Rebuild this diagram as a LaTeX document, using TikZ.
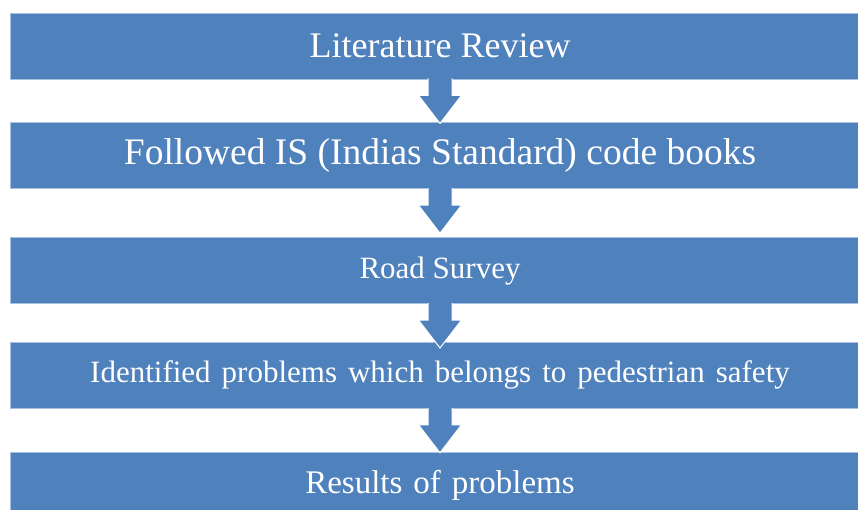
\documentclass[tikz,border=0pt]{standalone}
\usepackage{fontspec}
\setmainfont{Liberation Serif}
\usepackage{xcolor}
\usetikzlibrary{positioning}

\definecolor{stepblue}{RGB}{79,129,189}
\definecolor{stepedge}{RGB}{168,193,224}

% block arrow hanging below a box
\newcommand{\downarrowblock}[1]{%
  \filldraw[arrowbody] ([xshift=-12pt,yshift=1pt]#1.south) -- ++(0,-17) -- ++(-9.5,0)
    -- ++(21.5,-28) -- ++(21.5,28) -- ++(-9.5,0) -- ++(0,17);}

\begin{document}
\begin{tikzpicture}[
  x=1pt, y=1pt,
  stepbox/.style={rectangle, fill=stepblue, draw=stepedge, line width=0.8pt,
    minimum width=860pt, minimum height=66pt, inner sep=0pt, text=white},
  arrowbody/.style={fill=stepblue, draw=white, line width=1pt, line join=miter}
]
\useasboundingbox (0,0) rectangle (858,-509);

% Steps
\node[stepbox, font=\fontsize{36}{40}\selectfont] (lit) at (440,-46) {Literature Review};
\node[stepbox, font=\fontsize{37.5}{42}\selectfont, below=43pt of lit] (code) {Followed IS (Indias Standard) code books};
\node[stepbox, font=\fontsize{31}{36}\selectfont, below=48pt of code] (survey) {Road Survey};
\node[stepbox, font=\fontsize{31}{36}\selectfont, below=38pt of survey] (ident) {\spaceskip=11pt\relax Identified problems which belongs to pedestrian safety};
\node[stepbox, font=\fontsize{33}{38}\selectfont, below=43pt of ident] (res) {Results\hspace{11pt}of\hspace{11pt}problems};

% Arrows
\downarrowblock{lit}
\downarrowblock{code}
\downarrowblock{survey}
\downarrowblock{ident}

\end{tikzpicture}
\end{document}
